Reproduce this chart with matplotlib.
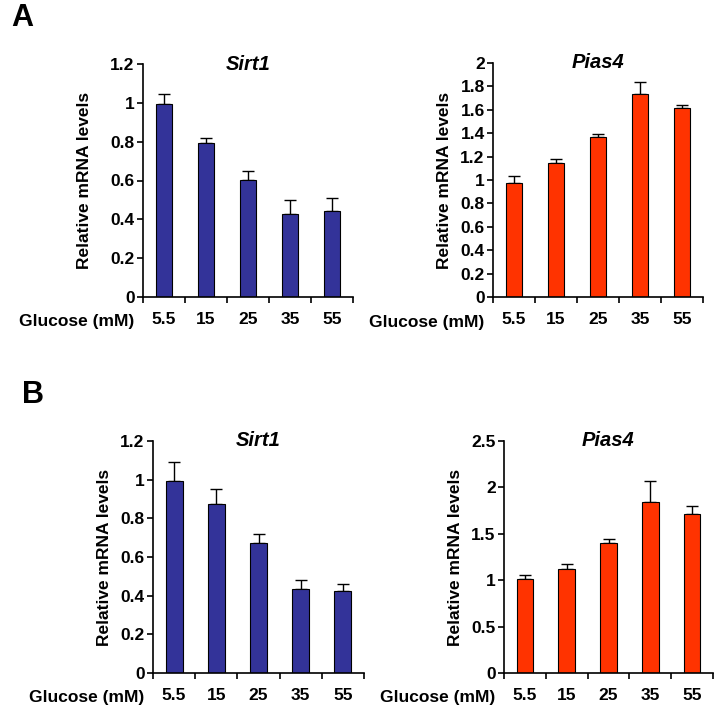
import matplotlib
matplotlib.use('Agg')
import matplotlib.pyplot as plt
import numpy as np

plt.rcParams['font.family'] = ['Liberation Sans', 'DejaVu Sans']
plt.rcParams['font.weight'] = 'bold'

glucose = ['5.5', '15', '25', '35', '55']

# panel A
sirt1_a = [0.993, 0.792, 0.603, 0.425, 0.442]
sirt1_a_err = [0.054, 0.029, 0.048, 0.073, 0.069]
pias4_a = [0.977, 1.149, 1.369, 1.734, 1.614]
pias4_a_err = [0.060, 0.034, 0.025, 0.100, 0.026]

# panel B
sirt1_b = [0.992, 0.873, 0.671, 0.434, 0.422]
sirt1_b_err = [0.098, 0.079, 0.050, 0.046, 0.038]
pias4_b = [1.008, 1.126, 1.402, 1.840, 1.714]
pias4_b_err = [0.043, 0.047, 0.043, 0.226, 0.090]

blue = '#333399'
red = '#ff3300'

W, H = 716, 713
fig = plt.figure(figsize=(W / 100, H / 100), dpi=100)


def panel(rect, vals, errs, color, title, ymax, ystep, ypad=6):
    x0, y0, x1, y1 = rect
    ax = fig.add_axes([x0 / W, 1 - y1 / H, (x1 - x0) / W, (y1 - y0) / H])
    pos = np.arange(len(vals)) + 0.5
    ax.bar(pos, vals, width=0.4, color=color, edgecolor='black', lw=0.8, zorder=2)
    ax.errorbar(pos, vals, yerr=[np.zeros(len(vals)), errs], fmt='none',
                ecolor='black', elinewidth=1, capsize=4, capthick=1, zorder=1)
    ax.set_xlim(0, len(vals))
    ax.set_ylim(0, ymax)
    ax.set_yticks(np.arange(0, ymax + 1e-9, ystep))
    ax.yaxis.set_major_formatter(plt.FuncFormatter(lambda v, p: f'{v:g}'))
    ax.set_xticks(pos)
    ax.set_xticklabels(glucose)
    ax.set_xticks(np.arange(0, len(vals) + 1), minor=True)
    ax.tick_params(axis='x', which='major', length=0, pad=11, labelsize=12.5)
    ax.tick_params(axis='x', which='minor', length=4, width=1.2, direction='out')
    ax.tick_params(axis='y', length=4, width=1.2, pad=2, labelsize=12.5)
    for s in ['top', 'right']:
        ax.spines[s].set_visible(False)
    for s in ['left', 'bottom']:
        ax.spines[s].set_linewidth(1.2)
    ax.set_ylabel('Relative mRNA levels', fontsize=12.5, fontweight='bold', labelpad=ypad)
    ax.text(0.5, 1.0, title, ha='center', va='center', transform=ax.transAxes,
            fontsize=14.5, fontweight='bold', fontstyle='italic')
    ax.text(-0.04, -0.107, 'Glucose (mM)', ha='right', va='center',
            transform=ax.transAxes, fontsize=12.5, fontweight='bold')
    return ax


panel((143, 64, 353, 297), sirt1_a, sirt1_a_err, blue, 'Sirt1', 1.2, 0.2, ypad=13)
panel((493, 63, 703, 297), pias4_a, pias4_a_err, red, 'Pias4', 2.0, 0.2)
panel((153, 441, 364, 673), sirt1_b, sirt1_b_err, blue, 'Sirt1', 1.2, 0.2)
panel((504, 441, 713, 673), pias4_b, pias4_b_err, red, 'Pias4', 2.5, 0.5)

fig.text(11 / W, 1 - 18 / H, 'A', fontsize=22, fontweight='bold', va='center', ha='left')
fig.text(22 / W, 1 - 395 / H, 'B', fontsize=22, fontweight='bold', va='center', ha='left')

fig.savefig('out.png', dpi=100)
